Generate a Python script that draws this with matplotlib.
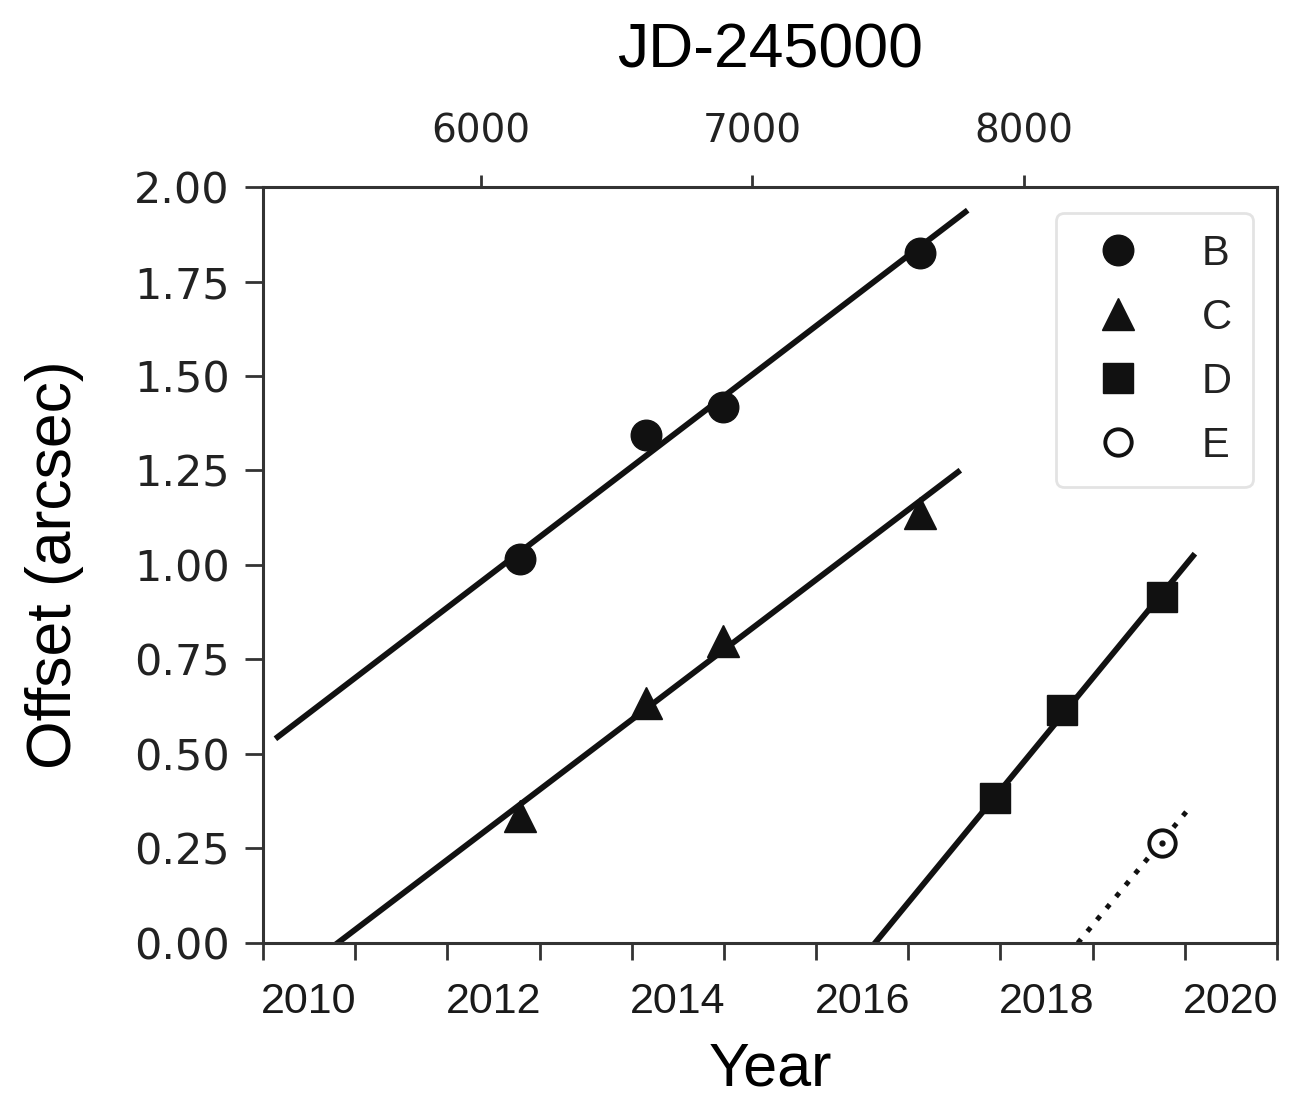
import numpy as np
import matplotlib
matplotlib.use("Agg")
import matplotlib.pyplot as plt

b_year = [2012.29, 2013.66, 2014.49, 2016.63]
b_off = [1.016, 1.344, 1.418, 1.825]
c_year = [2012.29, 2013.66, 2014.49, 2016.63]
c_off = [0.336, 0.635, 0.800, 1.138]
d_year = [2017.44, 2018.17, 2019.25]
d_off = [0.384, 0.616, 0.915]
e_year = [2019.25]
e_off = [0.265]

# fitted motion lines (end points)
b_fit_year = [2009.66, 2017.12]
b_fit_off = [0.545, 1.934]
c_fit_year = [2010.31, 2017.04]
c_fit_off = [0.0, 1.246]
d_fit_year = [2016.14, 2019.59]
d_fit_off = [0.0, 1.024]
e_fit_year = [2018.34, 2019.55]
e_fit_off = [0.0, 0.357]

year_labels = [2010, 2012, 2014, 2016, 2018, 2020]
year_marks = np.arange(2009.5, 2021.0, 1.0)
jd_ticks = [6000, 7000, 8000]
offset_ticks = [0.0, 0.25, 0.5, 0.75, 1.0, 1.25, 1.5, 1.75, 2.0]


def year2jd(y):
    return 6000 + (np.asarray(y) - 2011.864) * 339.6


def jd2year(j):
    return 2011.864 + (np.asarray(j) - 6000) / 339.6


fig = plt.figure(figsize=(13.07, 11.02), dpi=100)
ax = fig.add_axes([0.2012, 0.1443, 0.7758, 0.6860])

k = "#111111"
ax.plot(b_fit_year, b_fit_off, color=k, lw=4.2, zorder=2)
ax.plot(c_fit_year, c_fit_off, color=k, lw=4.2, zorder=2)
ax.plot(d_fit_year, d_fit_off, color=k, lw=4.2, zorder=2)
ax.plot(e_fit_year, e_fit_off, color=k, lw=3.6, ls=(0, (1, 2.0)), zorder=2)

ax.plot(b_year, b_off, "o", color=k, ms=22, ls="none", label="B", zorder=3)
ax.plot(c_year, c_off, "^", color=k, ms=23, ls="none", label="C", zorder=3)
ax.plot(d_year, d_off, "s", color=k, ms=21, ls="none", label="D", zorder=3)
ax.plot(e_year, e_off, "o", mfc="white", mec=k, mew=2.8, ms=19, ls="none",
        label="E", zorder=3)
ax.plot(e_year, e_off, ".", color=k, ms=7, zorder=4)

ax.set_xlim(2009.5, 2020.5)
ax.set_ylim(0, 2.0)

# year labels sit between the tick marks
ax.set_xticks(year_labels)
ax.set_xticklabels([str(y) for y in year_labels], family="Liberation Sans",
                   fontsize=31, color="#1a1a1a")
ax.set_xticks(year_marks, minor=True)
ax.tick_params(axis="x", which="major", length=0, pad=28)
ax.tick_params(axis="x", which="minor", length=12, width=2, color="#333333")

ax.set_yticks(offset_ticks)
ax.set_yticklabels(["%.2f" % v for v in offset_ticks], family="DejaVu Sans",
                   fontsize=31, color="#222222")
ax.tick_params(axis="y", length=13, width=2, pad=11, color="#333333")

for s in ax.spines.values():
    s.set_linewidth(2.2)
    s.set_color("#333333")

ax.set_xlabel("Year", family="Liberation Sans", fontsize=44, labelpad=14)
ax.set_ylabel("Offset (arcsec)", family="Liberation Sans", fontsize=45,
              labelpad=36)

top = ax.secondary_xaxis("top", functions=(year2jd, jd2year))
top.set_xticks(jd_ticks)
top.set_xticklabels([str(j) for j in jd_ticks], family="DejaVu Sans",
                    fontsize=28, color="#222222")
top.tick_params(length=9, width=2, pad=17, color="#333333")
top.set_xlabel("JD-245000", family="Liberation Sans", fontsize=45,
               labelpad=33)

leg = ax.legend(loc="upper right", bbox_to_anchor=(0.976, 0.966),
                borderaxespad=0, numpoints=1, handlelength=2.0,
                handletextpad=1.0, labelspacing=0.58, borderpad=0.5,
                prop={"family": "Liberation Sans", "size": 30},
                fancybox=True)
leg.get_frame().set_edgecolor("#dddddd")
leg.get_frame().set_linewidth(2)
for t in leg.get_texts():
    t.set_color("#222222")

fig.savefig("out.png", dpi=100)
